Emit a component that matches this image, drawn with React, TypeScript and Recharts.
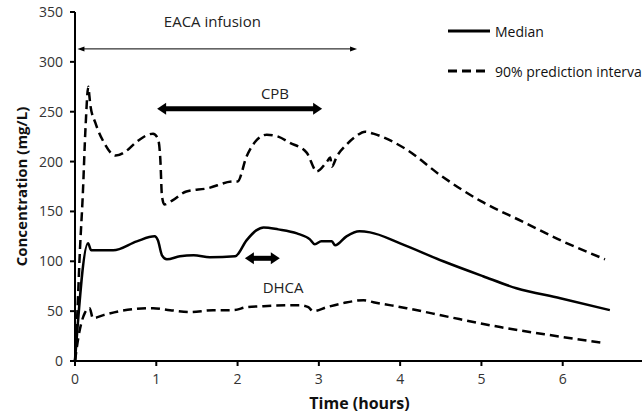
import React from "react";
import {
  LineChart, Line, XAxis, YAxis, ReferenceLine, ReferenceDot,
} from "recharts";

// median concentration (mg/L) over time (hours)
const medianT = [0, 0.16, 0.2, 0.47, 0.76, 0.98, 1.02, 1.07, 1.13, 1.29, 1.46, 1.66, 1.97, 2.11, 2.23, 2.32, 2.5, 2.73, 2.89, 2.95, 3.03, 3.16, 3.2, 3.34, 3.5, 3.63, 4.0, 4.53, 5.02, 5.43, 5.97, 6.58];
const medianC = [0, 118, 111, 111, 120, 125, 121, 106, 102, 105, 106, 104, 105, 121, 131, 134, 132, 128, 122, 117, 120, 120, 116, 125, 130, 129, 118, 100, 85, 73, 63, 51];

// upper bound of the 90% prediction interval
const upperT = [0, 0.03, 0.06, 0.095, 0.13, 0.164, 0.178, 0.19, 0.25, 0.35, 0.5, 0.62, 0.76, 0.96, 1.02, 1.05, 1.07, 1.1, 1.2, 1.37, 1.62, 1.95, 2.0, 2.11, 2.24, 2.36, 2.5, 2.64, 2.85, 2.95, 2.97, 3.1, 3.14, 3.16, 3.22, 3.34, 3.45, 3.57, 3.67, 4.08, 4.5, 5.0, 5.5, 6.0, 6.52];
const upperC = [0, 50, 110, 165, 235, 275, 265, 256, 239, 220, 206, 210, 220, 228, 223, 202, 165, 157, 161, 170, 173, 180, 180, 205, 222, 227, 225, 219, 209, 192, 190, 200, 204, 195, 205, 217, 225, 230, 228, 212, 186, 160, 140, 120, 102];

// lower bound of the 90% prediction interval
const lowerT = [0, 0.04, 0.12, 0.18, 0.22, 0.35, 0.55, 0.96, 1.17, 1.41, 1.7, 1.95, 2.11, 2.32, 2.77, 2.87, 2.93, 3.1, 3.3, 3.55, 3.67, 4.08, 4.61, 5.23, 5.84, 6.52];
const lowerC = [0, 23, 48, 53, 43, 46, 50, 53, 51, 49, 51, 51, 54, 55, 56, 54, 50, 54, 58, 61, 59, 53, 44, 34, 26, 18];

const xTicks = [0, 1, 2, 3, 4, 5, 6];
const yTicks = [0, 50, 100, 150, 200, 250, 300, 350];

// period arrows: label, start/end time, level, label anchor
const periodLabels = ["EACA infusion", "CPB", "DHCA"];
const periodStart = [0.03, 1.01, 2.09];
const periodEnd = [3.47, 3.04, 2.52];
const periodLevel = [313, 253, 103];
const periodLabelT = [1.69, 2.46, 2.56];
const periodLabelC = [340, 268, 74];

const legendLabels = ["Median", "90% prediction interval"];

const toPoints = (ts: number[], cs: number[]) => ts.map((t, i) => ({ t, c: cs[i] }));

const medianData = toPoints(medianT, medianC);
const upperData = toPoints(upperT, upperC);
const lowerData = toPoints(lowerT, lowerC);

const FONT = '"Open Sans", sans-serif';

const makeArrow = (thick: boolean) => (props: any) => {
  const { x1, y1, x2, y2 } = props;
  const w = thick ? 5 : 1;
  const hl = thick ? 9 : 7;
  const hw = thick ? 6 : 2.5;
  return (
    <g>
      <line x1={x1 + hl * 0.6} y1={y1} x2={x2 - hl * 0.6} y2={y2} stroke="#000" strokeWidth={w} />
      <polygon points={`${x1},${y1} ${x1 + hl},${y1 - hw} ${x1 + hl},${y1 + hw}`} fill="#000" />
      <polygon points={`${x2},${y2} ${x2 - hl},${y2 - hw} ${x2 - hl},${y2 + hw}`} fill="#000" />
    </g>
  );
};

const LegendBox = () => (
  <div style={{ position: "absolute", left: 448, top: 21, fontFamily: FONT, fontSize: 14, color: "#111" }}>
    {legendLabels.map((name, i) => (
      <div key={name} style={{ display: "flex", alignItems: "center", height: 20, marginBottom: 20, whiteSpace: "nowrap" }}>
        <svg width={47} height={10}>
          <line x1={0} y1={5} x2={i === 0 ? 42 : 38} y2={5} stroke="#000" strokeWidth={3}
            strokeDasharray={i === 0 ? undefined : "9 5"} />
        </svg>
        <span>{name}</span>
      </div>
    ))}
  </div>
);

export default function App() {
  return (
    <div style={{ position: "absolute", left: 0, top: 0, width: 660, height: 413, background: "#fff" }}>
      <LineChart width={660} height={413} margin={{ top: 12, right: 16, left: 0, bottom: 0 }}
        style={{ fontFamily: FONT }}>
        <XAxis
          type="number" dataKey="t" domain={[0, 7]} ticks={xTicks} allowDuplicatedCategory={false}
          height={52} tickSize={5} tickMargin={8}
          axisLine={{ stroke: "#000", strokeWidth: 2 }} tickLine={{ stroke: "#000", strokeWidth: 2 }}
          tick={{ fill: "#333", fontSize: 14 }}
          label={{ value: "Time (hours)", position: "insideBottom", offset: 4, fill: "#111", fontSize: 16, fontWeight: 700 }}
        />
        <YAxis
          type="number" domain={[0, 350]} ticks={yTicks} width={75} tickSize={5} tickMargin={7}
          axisLine={{ stroke: "#000", strokeWidth: 2 }} tickLine={{ stroke: "#000", strokeWidth: 2 }}
          tick={{ fill: "#333", fontSize: 14 }}
          label={{ value: "Concentration (mg/L)", angle: -90, position: "insideLeft", offset: 22,
            style: { textAnchor: "middle" }, fill: "#111", fontSize: 15, fontWeight: 700 }}
        />
        <Line data={upperData} dataKey="c" type="monotone" stroke="#000" strokeWidth={2.5}
          strokeDasharray="9 5" dot={false} isAnimationActive={false} />
        <Line data={lowerData} dataKey="c" type="monotone" stroke="#000" strokeWidth={2.5}
          strokeDasharray="9 5" dot={false} isAnimationActive={false} />
        <Line data={medianData} dataKey="c" type="monotone" stroke="#000" strokeWidth={2.5}
          dot={false} isAnimationActive={false} />
        {periodLabels.map((name, i) => (
          <ReferenceLine key={name}
            segment={[{ x: periodStart[i], y: periodLevel[i] }, { x: periodEnd[i], y: periodLevel[i] }]}
            shape={makeArrow(i > 0)} />
        ))}
        {periodLabels.map((name, i) => (
          <ReferenceDot key={name + "-label"} x={periodLabelT[i]} y={periodLabelC[i]} r={1}
            fill="none" stroke="none"
            label={{ value: name, position: "center", fill: "#222", fontSize: 15 }} />
        ))}
      </LineChart>
      <LegendBox />
    </div>
  );
}
